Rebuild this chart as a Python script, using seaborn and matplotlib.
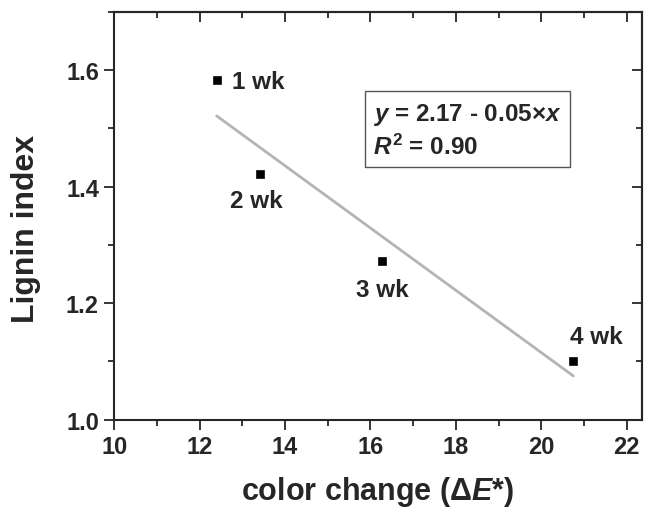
"""
Lignin index vs color change - scatter with linear fit
"""

import numpy as np
import pandas as pd
import matplotlib
matplotlib.use("Agg")
import matplotlib.pyplot as plt
import seaborn as sns

# data
color_change = [12.4, 13.42, 16.28, 20.75]
lignin_index = [1.583, 1.422, 1.272, 1.10]
week_labels = ['1 wk', '2 wk', '3 wk', '4 wk']
label_dx = [0.36, -0.70, -0.61, -0.07]
label_dy = [-0.003, -0.046, -0.048, 0.042]

df = pd.DataFrame({'dE': color_change, 'lignin': lignin_index, 'week': week_labels})

sns.set_style('ticks')
plt.rcParams['font.family'] = ['Liberation Sans', 'DejaVu Sans']
plt.rcParams['font.weight'] = 'bold'
plt.rcParams['mathtext.fontset'] = 'custom'
plt.rcParams['mathtext.it'] = 'Liberation Sans:bold:italic'
plt.rcParams['mathtext.rm'] = 'Liberation Sans:bold'
plt.rcParams['mathtext.bf'] = 'Liberation Sans:bold'

fig = plt.figure(figsize=(6.45, 5.1), dpi=100)
ax = fig.add_axes([0.177, 0.175, 0.818, 0.80])

# regression line over the data range
sns.regplot(data=df, x='dE', y='lignin', ax=ax, ci=None, scatter=False,
            truncate=True, line_kws={'color': '#b4b4b4', 'linewidth': 2.0})
sns.scatterplot(data=df, x='dE', y='lignin', ax=ax, marker='s', s=34,
                color='black', edgecolor='black', zorder=3)

for x, y, lab, dx, dy in zip(color_change, lignin_index, week_labels,
                             label_dx, label_dy):
    ax.text(x + dx, y + dy, lab, fontsize=17.5, fontweight='bold',
            ha='left', va='center')

ax.text(16.07, 1.497, '$y$ = 2.17 - 0.05×$x$\n$R^2$ = 0.90', fontsize=17.5,
        fontweight='bold', ha='left', va='center', linespacing=1.3,
        bbox=dict(boxstyle='square,pad=0.33', facecolor='white',
                  edgecolor='#555555', linewidth=1.0))

ax.set_xlim(10, 22.35)
ax.set_ylim(1.0, 1.7)
ax.set_xticks(np.arange(10, 23, 2))
ax.set_xticks(np.arange(11, 23, 2), minor=True)
ax.set_yticks([1.0, 1.2, 1.4, 1.6])
ax.set_yticks([1.1, 1.3, 1.5, 1.7], minor=True)
ax.tick_params(which='both', direction='out', labelsize=17, width=1.3, pad=4)
ax.tick_params(which='major', length=7)
ax.tick_params(which='minor', length=4)
for lbl in ax.get_xticklabels() + ax.get_yticklabels():
    lbl.set_fontweight('bold')
for sp in ax.spines.values():
    sp.set_linewidth(1.5)
    sp.set_visible(True)

# inward ticks on top and right
top = ax.secondary_xaxis('top')
top.set_xticks(np.arange(10, 23, 2))
top.set_xticks(np.arange(11, 23, 2), minor=True)
right = ax.secondary_yaxis('right')
right.set_yticks([1.0, 1.2, 1.4, 1.6])
right.set_yticks([1.1, 1.3, 1.5, 1.7], minor=True)
for sec in (top, right):
    sec.tick_params(which='both', direction='in', width=1.3,
                    labeltop=False, labelright=False, labelbottom=False, labelleft=False)
    sec.tick_params(which='major', length=7)
    sec.tick_params(which='minor', length=4)
    for sp in sec.spines.values():
        sp.set_linewidth(1.5)

ax.set_xlabel('color change (Δ$E$*)', fontsize=22, fontweight='bold')
ax.xaxis.set_label_coords(0.5, -0.132)
ax.set_ylabel('Lignin index', fontsize=23, fontweight='bold')
ax.yaxis.set_label_coords(-0.138, 0.47)

fig.savefig('out.png', dpi=100)
